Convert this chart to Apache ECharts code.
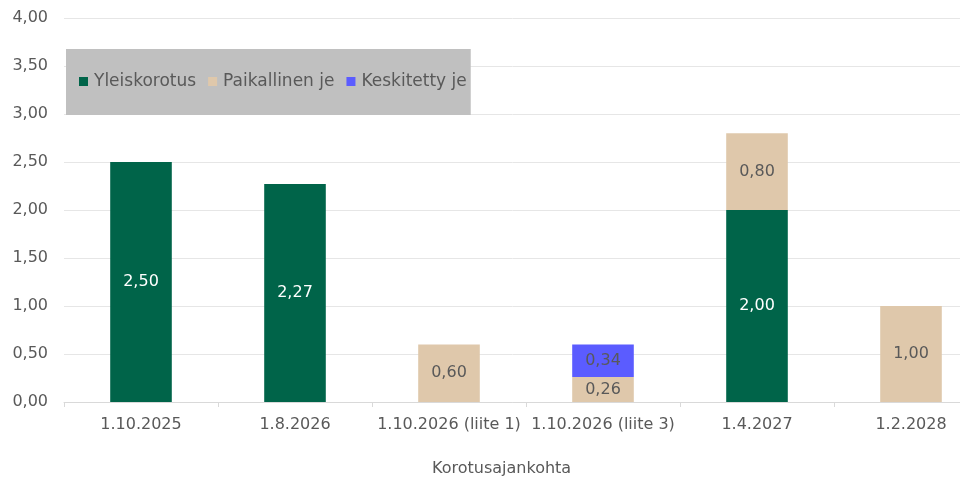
<!DOCTYPE html>
<html><head><meta charset="utf-8">
<script src="https://cdn.jsdelivr.net/npm/echarts@6/dist/echarts.min.js"></script>
<style>html,body{margin:0;padding:0;background:#fff}#c{width:960px;height:483px}</style>
</head><body><div id="c"></div>
<script>
var categories = ['1.10.2025','1.8.2026','1.10.2026 (liite 1)','1.10.2026 (liite 3)','1.4.2027','1.2.2028'];
var yleiskorotus = [2.50, 2.27, '-', '-', 2.00, '-'];
var paikallinen = ['-', '-', 0.60, 0.26, 0.80, 1.00];
var keskitetty = ['-', '-', '-', 0.34, '-', '-'];
var seriesNames = ['Yleiskorotus','Paikallinen je','Keskitetty je'];
var xAxisTitle = 'Korotusajankohta';
var colors = ['#006449','#dfc8ab','#5b5cff'];
var FONT = 'DejaVu Sans';
var fmt = function(v){ return Number(v).toFixed(2).replace('.', ','); };
var chart = echarts.init(document.getElementById('c'));
function mk(name, data, color, labelColor){
  return {name:name, type:'bar', stack:'s', data:data, barCategoryGap:'60%',
    itemStyle:{color:color},
    label:{show:true, position:'inside', color:labelColor, fontFamily:FONT, fontSize:16,
      formatter:function(p){return fmt(p.value);}}};
}
chart.setOption({
  animation:false,
  textStyle:{fontFamily:FONT},
  grid:{left:64, width:924, top:18, bottom:81, containLabel:false, outerBoundsMode:'none'},
  legend:{left:66, top:49, padding:[24,4,25,13], backgroundColor:'#c0c0c0',
    itemWidth:9, itemHeight:9, itemGap:12, icon:'rect',
    textStyle:{color:'#595959', fontFamily:FONT, fontSize:17, padding:[0,0,0,1]},
    data:seriesNames},
  graphic:[{type:'text', left:432, top:461, style:{text:xAxisTitle, fill:'#595959', font:'16px "DejaVu Sans"'}}],
  xAxis:{type:'category', data:categories,
    axisLine:{lineStyle:{color:'#d9d9d9'}},
    axisTick:{show:true, lineStyle:{color:'#d9d9d9'}, length:5},
    axisLabel:{color:'#595959', fontFamily:FONT, fontSize:16, margin:15, interval:0}},
  yAxis:{type:'value', min:0, max:4, interval:0.5,
    axisLabel:{color:'#595959', fontFamily:FONT, fontSize:16, margin:16, formatter:fmt},
    splitLine:{lineStyle:{color:'#e6e6e6'}},
    axisLine:{show:false}, axisTick:{show:false}},
  series:[
    mk(seriesNames[0], yleiskorotus, colors[0], '#ffffff'),
    mk(seriesNames[1], paikallinen, colors[1], '#595959'),
    mk(seriesNames[2], keskitetty, colors[2], '#595959')
  ]
});
</script></body></html>
